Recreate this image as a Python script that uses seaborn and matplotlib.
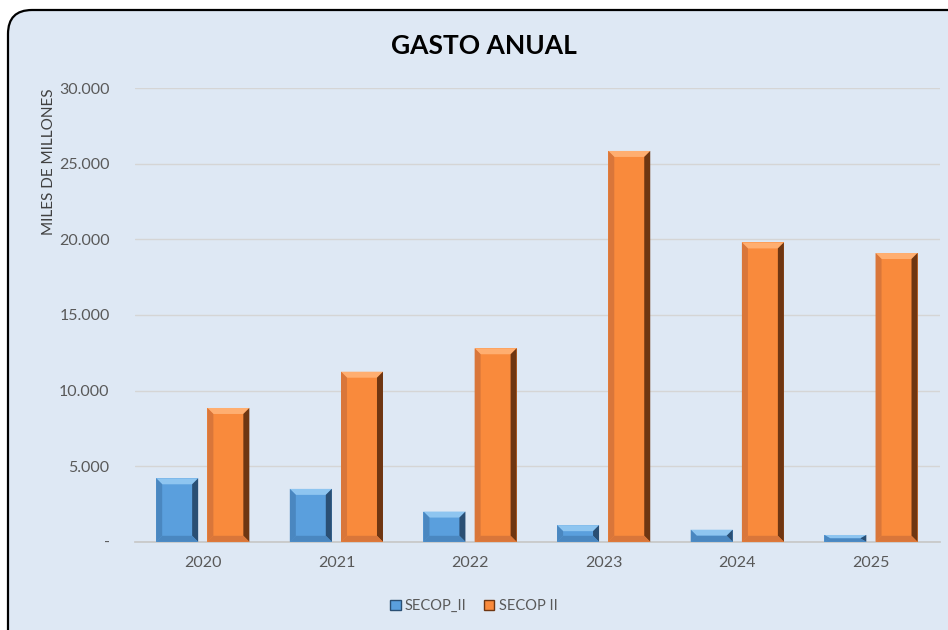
"""Gasto anual SECOP: barras agrupadas por año."""

import matplotlib.pyplot as plt
import pandas as pd
import seaborn as sns
from matplotlib.patches import FancyBboxPatch, Patch, Polygon
from matplotlib.ticker import FuncFormatter

YEARS = ["2020", "2021", "2022", "2023", "2024", "2025"]
SECOP_I = [4200, 3500, 2000, 1100, 800, 450]
SECOP_II = [8850, 11250, 12800, 25850, 19800, 19100]
SERIES = ["SECOP_II", "SECOP II"]
COLORS = ["#5A9FDD", "#F98A3C"]
LIGHT = ["#8EC5F0", "#FFAE70"]
MID = ["#4A87C0", "#D9763A"]
DARK = ["#2A4F74", "#6E3612"]
BG = "#DEE8F4"


def thousands(value, _pos):
    if value == 0:
        return "-"
    return f"{value:,.0f}".replace(",", ".")


def add_bevel(ax, bar, idx, px=6):
    """Fake the Excel bevel look with four shaded trapezoids on the bar."""
    x0, w, h = bar.get_x(), bar.get_width(), bar.get_height()
    to_px = ax.transData.transform
    dx_px = to_px((1, 0))[0] - to_px((0, 0))[0]
    dy_px = to_px((0, 1))[1] - to_px((0, 0))[1]
    bx = px / dx_px
    by = min(px / dy_px, h / 2)
    x1 = x0 + w
    pieces = [
        ([(x0, h), (x1, h), (x1 - bx, h - by), (x0 + bx, h - by)], LIGHT[idx]),
        ([(x1, h), (x1, 0), (x1 - bx, by), (x1 - bx, h - by)], DARK[idx]),
        ([(x0, 0), (x0, h), (x0 + bx, h - by), (x0 + bx, by)], MID[idx]),
        ([(x0, 0), (x1, 0), (x1 - bx, by), (x0 + bx, by)], MID[idx]),
    ]
    for pts, col in pieces:
        ax.add_patch(Polygon(pts, closed=True, facecolor=col,
                             edgecolor="none", zorder=4))


df = pd.DataFrame(
    {
        "year": YEARS * 2,
        "value": SECOP_I + SECOP_II,
        "serie": [SERIES[0]] * len(YEARS) + [SERIES[1]] * len(YEARS),
    }
)

sns.set_theme(style="white")
plt.rcParams["font.family"] = ["Lato", "DejaVu Sans"]

fig = plt.figure(figsize=(9.48, 6.3), dpi=100)
fig.patch.set_facecolor("white")

# rounded chart frame
bg = fig.add_axes([0, 0, 1, 1], zorder=-1)
bg.set_xlim(0, 948)
bg.set_ylim(630, 0)
bg.axis("off")
bg.add_patch(
    FancyBboxPatch(
        (8, 10), 1000, 700,
        boxstyle="round,pad=0,rounding_size=24",
        facecolor=BG, edgecolor="black", linewidth=1.6,
    )
)

ax = fig.add_axes([0.142, 0.14, 0.85, 0.72])
ax.set_facecolor("none")
sns.barplot(
    data=df, x="year", y="value", hue="serie", palette=COLORS,
    saturation=1, width=0.766, gap=0.18, ax=ax, legend=False,
)

ax.set_ylim(0, 30000)
ax.set_xlim(-0.51, 5.52)

for i, container in enumerate(ax.containers):
    for bar in container:
        bar.set_edgecolor("none")
        bar.set_zorder(3)
        add_bevel(ax, bar, i)

ax.set_yticks(range(0, 30001, 5000))
ax.yaxis.set_major_formatter(FuncFormatter(thousands))
ax.grid(axis="y", color="#D5D5D5", linewidth=1)
ax.set_axisbelow(True)
for side in ["top", "right", "left"]:
    ax.spines[side].set_visible(False)
ax.spines["bottom"].set_color("#C8C8C8")
ax.tick_params(axis="both", length=0, labelsize=11.5, colors="#595959")
ax.tick_params(axis="x", pad=10)
ax.tick_params(axis="y", pad=18)
ax.set_xlabel("")
ax.set_ylabel("MILES DE MILLONES", fontsize=11, color="#404040", loc="top")
ax.yaxis.set_label_coords(-0.098, 1.0)

fig.text(0.51, 0.927, "GASTO ANUAL", ha="center", va="center",
         fontsize=19, fontweight="bold", color="black")

handles = [Patch(facecolor=c, edgecolor=e) for c, e in zip(COLORS, DARK)]
fig.legend(handles, SERIES, loc="center", bbox_to_anchor=(0.5, 0.038),
           ncol=2, frameon=False, fontsize=10.5, handlelength=0.7,
           handleheight=0.7, handletextpad=0.3, columnspacing=1.2,
           labelcolor="#595959")

fig.savefig("out.png", dpi=100, facecolor=fig.get_facecolor())
